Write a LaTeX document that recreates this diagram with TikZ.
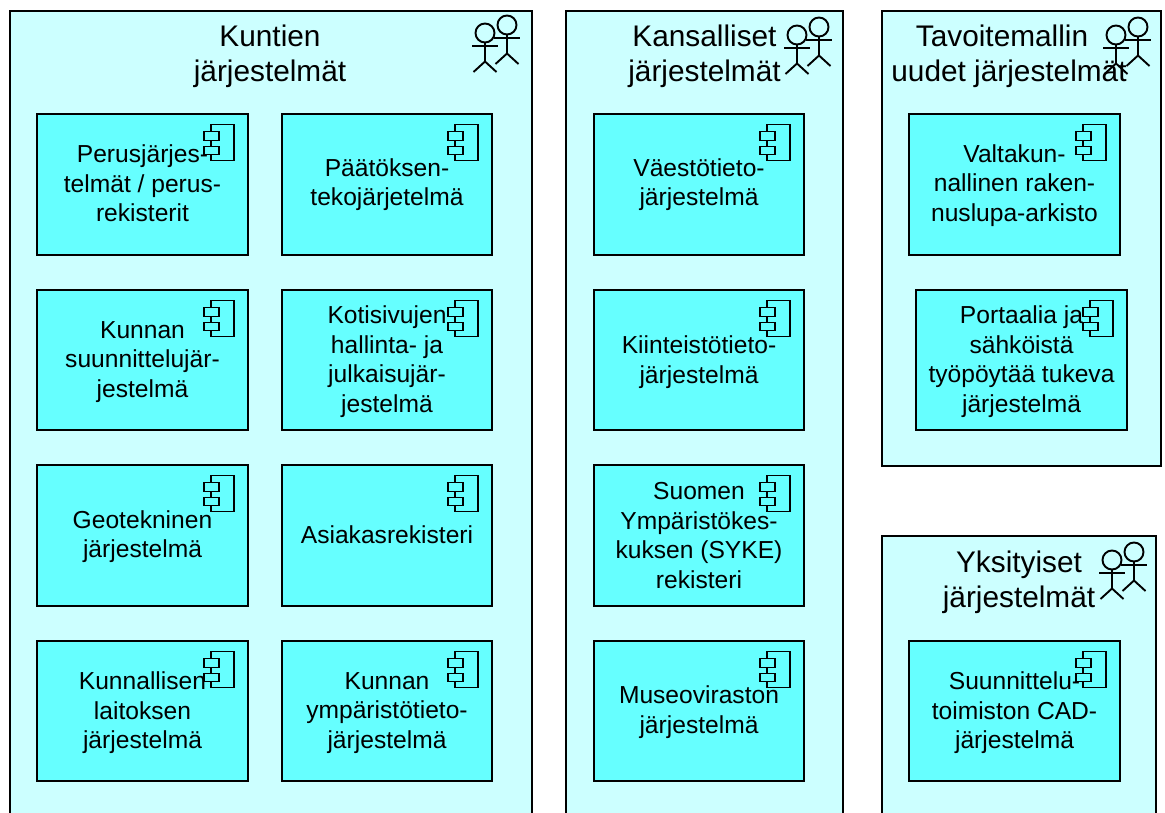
\documentclass[tikz,border=0pt]{standalone}
\usepackage{fontspec}
\setmainfont{Liberation Sans}
\definecolor{panelfill}{HTML}{CCFFFF}
\definecolor{boxfill}{HTML}{66FFFF}
\tikzset{x=1pt,y=-1pt,
 panel/.style={draw=black,line width=2pt,fill=panelfill,rectangle,inner sep=0pt,outer sep=0pt,anchor=north west},
 compbox/.style={draw=black,line width=2pt,fill=boxfill,rectangle,inner sep=0pt,outer sep=0pt,anchor=north west},
 label/.style={align=center,inner sep=0pt,font=\fontsize{24.6}{29.5}\selectfont},
 titlelabel/.style={align=center,inner sep=0pt,font=\fontsize{29.8}{35}\selectfont},
 glyph/.style={draw=black,line width=1.9pt},
 pics/actor/.style={code={
   \draw[glyph] (0,0) circle[radius=9.5];
   \draw[glyph] (0,9.5) -- (0,28.5);
   \draw[glyph] (-13,13) -- (13,13);
   \draw[glyph] (-11.5,39) -- (0,28.5) -- (11.5,39);
 }},
 pics/compicon/.style={code={
   \draw[glyph] (-23,7) -- (-23,0) -- (0,0) -- (0,36) -- (-23,36) -- (-23,30);
   \draw[glyph] (-23,16) -- (-23,22);
   \draw[glyph,fill=boxfill] (-30,7) rectangle (-15,16);
   \draw[glyph,fill=boxfill] (-30,22) rectangle (-15,30);
 }}
}
\newcommand{\compnode}[7]{% name, x, y, w, h, text, text offset
 \node[compbox,minimum width=#4pt,minimum height=#5pt] (#1) at (#2,#3) {};
 \pic at ([xshift=-14pt,yshift=-10.5pt]#1.north east) {compicon};
 \node[label] (#1t) at ([yshift=-#7pt]#1.center) {#6};
}
\begin{document}
\begin{tikzpicture}
\useasboundingbox (0,0) rectangle (1165,812);
\clip (0,0) rectangle (1165,812);
\fill[white] (0,0) rectangle (1165,812);
% panels
\node[panel,minimum width=522pt,minimum height=830pt] (pa) at (9.5,10.5) {};
\node[panel,minimum width=277pt,minimum height=830pt] (pb) at (566,10.5) {};
\node[panel,minimum width=279pt,minimum height=455pt] (pc) at (882,10.5) {};
\node[panel,minimum width=274pt,minimum height=300pt] (pd) at (882,536) {};
% titles
\node[titlelabel] (ta) at (270,56) {Kuntien\\järjestelmät};
\node[titlelabel] (tb) at (704.5,56) {Kansalliset\\järjestelmät};
\node[titlelabel] (tc) at (1009,56) {\makebox[0pt]{\hspace*{-14pt}Tavoitemallin}\\uudet järjestelmät};
\node[titlelabel] (td) at (1019,582) {Yksityiset\\järjestelmät};
% actors
\pic at (485,33) {actor}; \pic at (507,25) {actor};
\pic at (797,35) {actor}; \pic at (819,27) {actor};
\pic at (1116,35) {actor}; \pic at (1138,27) {actor};
\pic at (1112,560) {actor}; \pic at (1134,552) {actor};
% boxes
\compnode{a1}{37}{114}{211}{141}{Perusjärjes-\\telmät / perus-\\rekisterit}{-1}
\compnode{a2}{282}{114}{210}{141}{Päätöksen-\\tekojärjetelmä}{0}
\compnode{a3}{37}{290}{211}{140}{Kunnan\\suunnittelujär-\\jestelmä}{2}
\compnode{a4}{282}{290}{210}{140}{Kotisivujen\\hallinta- ja\\julkaisujär-\\jestelmä}{1.5}
\compnode{a5}{37}{465}{211}{141}{Geotekninen\\järjestelmä}{1}
\compnode{a6}{282}{465}{210}{141}{Asiakasrekisteri}{-1}
\compnode{a7}{37}{641}{211}{140}{Kunnallisen\\laitoksen\\järjestelmä}{2}
\compnode{a8}{282}{641}{210}{140}{Kunnan\\ympäristötieto-\\järjestelmä}{2}
\compnode{b1}{594}{114}{210}{141}{Väestötieto-\\järjestelmä}{0}
\compnode{b2}{594}{290}{210}{140}{Kiinteistötieto-\\järjestelmä}{2}
\compnode{b3}{594}{465}{210}{141}{Suomen\\Ympäristökes-\\kuksen (SYKE)\\rekisteri}{0}
\compnode{b4}{594}{641}{210}{140}{Museoviraston\\järjestelmä}{1}
\compnode{c1}{909}{114}{211}{141}{Valtakun-\\nallinen raken-\\nuslupa-arkisto}{1}
\compnode{c2}{916}{290}{211}{140}{Portaalia ja\\sähköistä\\työpöytää tukeva\\järjestelmä}{1.5}
\compnode{d1}{909}{641}{211}{140}{Suunnittelu-\\toimiston CAD-\\järjestelmä}{2}
\end{tikzpicture}
\end{document}
